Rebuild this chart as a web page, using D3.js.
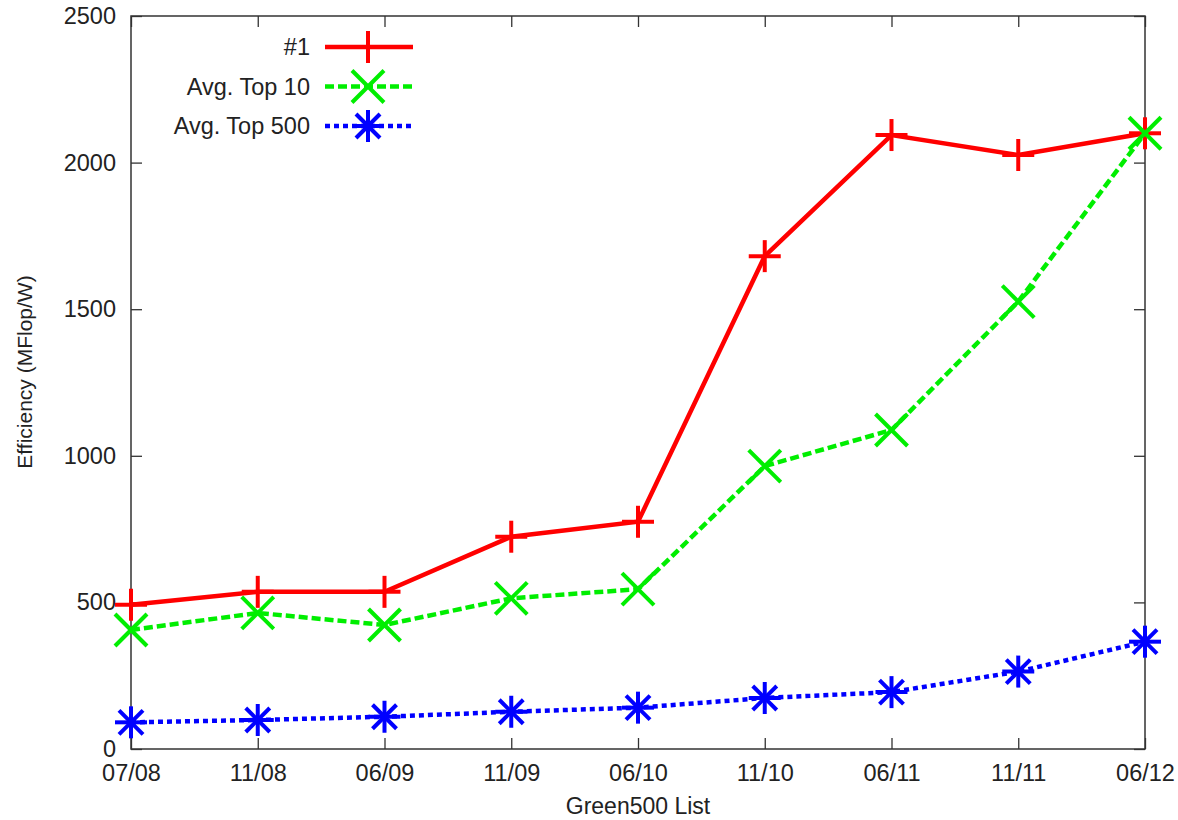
<!DOCTYPE html>
<html><head><meta charset="utf-8">
<script src="https://cdn.jsdelivr.net/npm/d3@7"></script>
<style>body{margin:0;background:#fff}svg{display:block}text{font-family:"Liberation Sans",Arial,sans-serif;fill:#222}</style>
</head><body>
<script>
const categories = ["07/08","11/08","06/09","11/09","06/10","11/10","06/11","11/11","06/12"];
const seriesNames = ["#1","Avg. Top 10","Avg. Top 500"];
const top1 = [492,536,536,724,775,1681,2094,2026,2100];
const avgTop10 = [406,464,423,514,545,965,1088,1526,2100];
const avgTop500 = [91,99,110,127,141,174,194,264,366];
const yTicks = [0,500,1000,1500,2000,2500];
const colors = ["#ff0000","#00ee00","#0000ff"];
const dashes = [null,"9,4","5,4"];
const markers = ["plus","cross","star"];

const W=1178,H=820, m={l:131,r:33,t:16,b:71};
const svg=d3.select("body").append("svg").attr("width",W).attr("height",H);
const x=d3.scalePoint().domain(categories).range([m.l,W-m.r]);
const y=d3.scaleLinear().domain([0,2500]).range([H-m.b,m.t]);
const fs=23.5, tl=11;

const g=svg.append("g");
const xb=g.append("g").attr("transform",`translate(0,${H-m.b})`)
  .call(d3.axisBottom(x).tickSize(-tl).tickPadding(15));
const xt=g.append("g").attr("transform",`translate(0,${m.t})`)
  .call(d3.axisTop(x).tickSize(-tl).tickFormat(""));
const yl=g.append("g").attr("transform",`translate(${m.l},0)`)
  .call(d3.axisLeft(y).tickValues(yTicks).tickFormat(d3.format("d")).tickSize(-tl).tickPadding(15));
const yr=g.append("g").attr("transform",`translate(${W-m.r},0)`)
  .call(d3.axisRight(y).tickValues(yTicks).tickSize(-tl).tickFormat(""));
[xb,xt,yl,yr].forEach(a=>{a.select(".domain").remove();a.selectAll("line").attr("stroke","#333").attr("stroke-width",1.3);
  a.selectAll("text").attr("font-size",fs).attr("fill","#222").attr("font-family","Liberation Sans, Arial, sans-serif");});
xb.selectAll("text").attr("dy","0.71em");
g.append("rect").attr("x",m.l).attr("y",m.t).attr("width",W-m.r-m.l).attr("height",H-m.b-m.t)
  .attr("fill","none").attr("stroke","#333").attr("stroke-width",1.5);

svg.append("text").attr("x",638).attr("y",814).attr("text-anchor","middle").attr("font-size",23).text("Green500 List");
svg.append("text").attr("transform","translate(32,372) rotate(-90)").attr("text-anchor","middle").attr("font-size",21).text("Efficiency (MFlop/W)");

function drawMarker(sel,type,cx,cy,color){
  const s=16, p=[];
  if(type==="plus"){p.push([-s,0,s,0],[0,-s,0,s]);}
  if(type==="cross"){p.push([-s,-s,s,s],[-s,s,s,-s]);}
  if(type==="star"){p.push([-s,0,s,0],[0,-s,0,s],[-12,-12,12,12],[-12,12,12,-12]);}
  p.forEach(q=>sel.append("line").attr("x1",cx+q[0]).attr("y1",cy+q[1]).attr("x2",cx+q[2]).attr("y2",cy+q[3])
    .attr("stroke",color).attr("stroke-width",4));
}
const data=[top1,avgTop10,avgTop500];
const line=d3.line().x((d,i)=>x(categories[i])).y(d=>y(d));
data.forEach((vals,k)=>{
  const gs=svg.append("g");
  gs.append("path").attr("d",line(vals)).attr("fill","none").attr("stroke",colors[k]).attr("stroke-width",4.5)
    .attr("stroke-dasharray",dashes[k]);
  vals.forEach((v,i)=>drawMarker(gs,markers[k],x(categories[i]),y(v),colors[k]));
});
seriesNames.forEach((n,k)=>{
  const ly=47+k*39.5;
  const lg=svg.append("g");
  lg.append("text").attr("x",310).attr("y",ly).attr("dy","0.35em").attr("text-anchor","end").attr("font-size",fs).text(n);
  lg.append("line").attr("x1",325).attr("x2",413).attr("y1",ly).attr("y2",ly).attr("stroke",colors[k]).attr("stroke-width",4.5).attr("stroke-dasharray",dashes[k]);
  drawMarker(lg,markers[k],368,ly,colors[k]);
});
</script></body></html>
